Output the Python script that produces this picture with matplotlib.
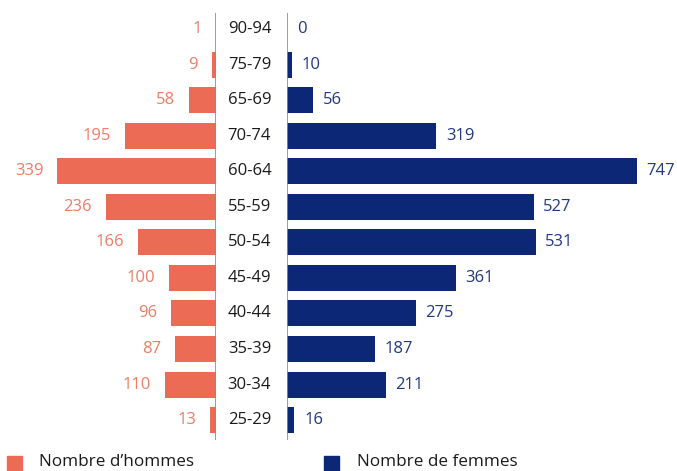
import matplotlib.pyplot as plt
import matplotlib.patches as mpatches
import matplotlib.transforms as mtransforms

plt.rcParams["font.family"] = ["Open Sans", "DejaVu Sans"]

# data, top row first
age_groups = ["90-94", "75-79", "65-69", "70-74", "60-64", "55-59",
              "50-54", "45-49", "40-44", "35-39", "30-34", "25-29"]
men = [1, 9, 58, 195, 339, 236, 166, 100, 96, 87, 110, 13]
women = [0, 10, 56, 319, 747, 527, 531, 361, 275, 187, 211, 16]
legend_labels = ["Nombre d\u2019hommes", "Nombre de femmes"]

men_color = "#EB6B55"
men_text = "#EE7C66"
women_color = "#0C2776"
women_text = "#22377F"
line_color = "#8C8C8C"

W, H = 677, 471
fig = plt.figure(figsize=(W / 100, H / 100), dpi=100)

px_per_unit = 0.468
x_zero_left = 216
x_zero_right = 287
y_top = 13
y_bot = 440

bottom = (H - y_bot) / H
height = (y_bot - y_top) / H

ax_l = fig.add_axes([0, bottom, x_zero_left / W, height])
ax_r = fig.add_axes([x_zero_right / W, bottom, (W - x_zero_right) / W, height])

ypos = list(range(len(age_groups)))
bar_h = 0.73

ax_l.barh(ypos, men, height=bar_h, color=men_color)
ax_r.barh(ypos, women, height=bar_h, color=women_color)

ax_l.set_xlim(x_zero_left / px_per_unit, 0)
ax_r.set_xlim(0, (W - x_zero_right) / px_per_unit)
for ax in (ax_l, ax_r):
    ax.set_ylim(len(age_groups) - 1 + 0.56, -0.45)
    ax.axis("off")
    ax.axvline(0, color=line_color, linewidth=1.2, zorder=3)

for y, v in zip(ypos, men):
    ax_l.annotate(str(v), (v, y), xytext=(-10, 0), textcoords="offset points",
                  ha="right", va="center", fontsize=12, color=men_text)
for y, v in zip(ypos, women):
    ax_r.annotate(str(v), (v, y), xytext=(7, 0), textcoords="offset points",
                  ha="left", va="center", fontsize=12, color=women_text)

# age group labels between the two axes
trans = mtransforms.blended_transform_factory(fig.transFigure, ax_l.transData)
x_mid = (x_zero_left + x_zero_right) / 2 / W - 0.003
for y, lab in zip(ypos, age_groups):
    fig.text(x_mid, y, lab, transform=trans, ha="center", va="center",
             fontsize=12, color="#1a1a1a")

# legend at the bottom, drawn by hand
sq = 15
for (x_sq, x_txt), col, lab in zip([(7, 39), (324, 357)],
                                   [men_color, women_color], legend_labels):
    fig.add_artist(mpatches.Rectangle((x_sq / W, (H - 456 - sq) / H), sq / W, sq / H,
                                      transform=fig.transFigure, color=col))
    fig.text(x_txt / W, 4.5 / H, lab, ha="left", va="baseline",
             fontsize=12.3, color="#1a1a1a")

fig.savefig("out.png", dpi=100)
